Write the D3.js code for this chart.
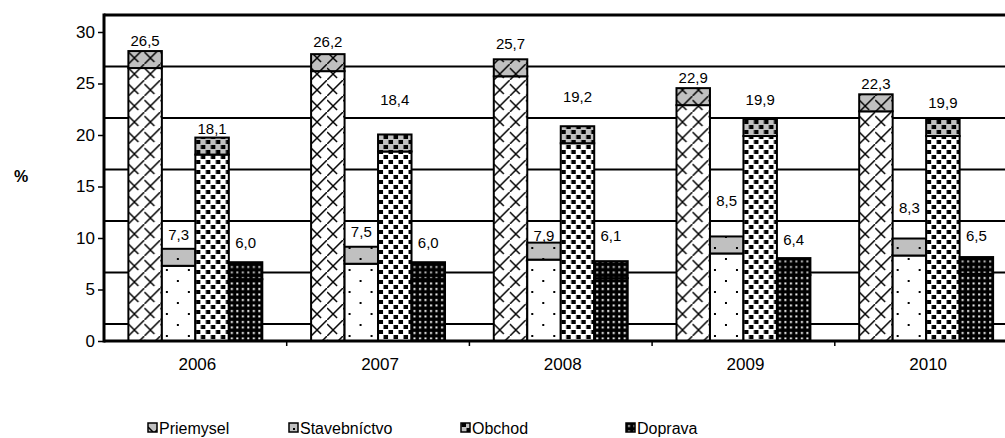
<!DOCTYPE html>
<html>
<head>
<meta charset="utf-8">
<script src="https://cdn.jsdelivr.net/npm/d3@7"></script>
<style>
body { margin: 0; background: #fff; }
svg { display: block; font-family: Arial, "Liberation Sans", sans-serif; }
</style>
</head>
<body>
<script>
var years = ["2006", "2007", "2008", "2009", "2010"];
var series = ["Priemysel", "Stavebníctvo", "Obchod", "Doprava"];
var priemysel = [26.5, 26.2, 25.7, 22.9, 22.3];
var stavebnictvo = [7.3, 7.5, 7.9, 8.5, 8.3];
var obchod = [18.1, 18.4, 19.2, 19.9, 19.9];
var doprava = [6.0, 6.0, 6.1, 6.4, 6.5];
var yTicks = [0, 5, 10, 15, 20, 25, 30];

// how far (px) each value label sits above its bar top, as Excel placed them
var labelLift = [
  [10, 12, 15, 10, 10],
  [14, 15, 7, 35, 31],
  [9, 34, 29, 19, 16],
  [19, 19, 25, 18, 21]
];

var values = [priemysel, stavebnictvo, obchod, doprava];
var depth = 1.65; // 3D depth of the chart, in axis units

var width = 1005, height = 438;

var svg = d3.select("body").append("svg")
  .attr("width", width)
  .attr("height", height);

var y = d3.scaleLinear().domain([0, 30]).range([341, 32]);
var x = d3.scaleBand().domain(years).range([104, 1017.5])
  .paddingInner(0.267).paddingOuter(0.1335);
var xs = d3.scaleBand().domain(series).range([0, x.bandwidth()]);

// patterns: front face and grey top face for every series
var defs = svg.append("defs");

function hatch(id, bg) {
  var p = defs.append("pattern").attr("id", id)
    .attr("patternUnits", "userSpaceOnUse").attr("width", 16).attr("height", 16);
  p.append("rect").attr("width", 16).attr("height", 16).attr("fill", bg);
  p.append("path").attr("d", "M-1,17 L17,-1 M0,4 L10,14")
    .attr("stroke", "#000").attr("stroke-width", 1.5).attr("fill", "none");
}
function sparse(id, bg) {
  var p = defs.append("pattern").attr("id", id)
    .attr("patternUnits", "userSpaceOnUse").attr("width", 22).attr("height", 22);
  p.append("rect").attr("width", 22).attr("height", 22).attr("fill", bg);
  p.append("rect").attr("x", 4).attr("y", 5).attr("width", 2).attr("height", 2).attr("fill", "#000");
  p.append("rect").attr("x", 15).attr("y", 16).attr("width", 2).attr("height", 2).attr("fill", "#000");
}
function confetti(id, bg) {
  var p = defs.append("pattern").attr("id", id)
    .attr("patternUnits", "userSpaceOnUse").attr("width", 10).attr("height", 10);
  p.append("rect").attr("width", 10).attr("height", 10).attr("fill", bg);
  p.append("rect").attr("x", 0.5).attr("y", 0).attr("width", 4.5).attr("height", 4).attr("fill", "#000");
  p.append("rect").attr("x", 5.5).attr("y", 5).attr("width", 4.5).attr("height", 4).attr("fill", "#000");
}
function dotgrid(id, dot) {
  var p = defs.append("pattern").attr("id", id)
    .attr("patternUnits", "userSpaceOnUse").attr("width", 5.5).attr("height", 5.5);
  p.append("rect").attr("width", 5.5).attr("height", 5.5).attr("fill", "#000");
  p.append("rect").attr("x", 2).attr("y", 2).attr("width", 2).attr("height", 2).attr("fill", dot);
}

hatch("p0", "#fff"); hatch("c0", "#c0c0c0");
sparse("p1", "#fff"); sparse("c1", "#c0c0c0");
confetti("p2", "#fff"); confetti("c2", "#c0c0c0");
dotgrid("p3", "#fff"); dotgrid("c3", "#c0c0c0");

// back wall gridlines (shifted up by the depth)
svg.append("g").selectAll("line")
  .data(yTicks.slice(0, -1))
  .enter().append("line")
  .attr("x1", 104).attr("x2", width)
  .attr("y1", function(d) { return y(d + depth); })
  .attr("y2", function(d) { return y(d + depth); })
  .attr("stroke", "#000").attr("stroke-width", 2);

// top frame
svg.append("line")
  .attr("x1", 104).attr("x2", width)
  .attr("y1", y(30 + depth)).attr("y2", y(30 + depth))
  .attr("stroke", "#000").attr("stroke-width", 3);

// bars
var bars = [];
series.forEach(function(s, i) {
  years.forEach(function(yr, j) {
    bars.push({s: i, year: yr, v: values[i][j], lift: labelLift[i][j]});
  });
});

var g = svg.append("g").selectAll("g")
  .data(bars)
  .enter().append("g")
  .attr("transform", function(d) { return "translate(" + (x(d.year) + xs(series[d.s])) + ",0)"; });

g.append("rect")
  .attr("width", xs.bandwidth())
  .attr("y", function(d) { return y(d.v); })
  .attr("height", function(d) { return y(0) - y(d.v); })
  .attr("fill", function(d) { return "url(#p" + d.s + ")"; })
  .attr("stroke", "#000").attr("stroke-width", 2);

g.append("rect")
  .attr("width", xs.bandwidth())
  .attr("y", function(d) { return y(d.v + depth); })
  .attr("height", function(d) { return y(d.v) - y(d.v + depth); })
  .attr("fill", function(d) { return "url(#c" + d.s + ")"; })
  .attr("stroke", "#000").attr("stroke-width", 2);

g.append("text")
  .attr("x", xs.bandwidth() / 2)
  .attr("y", function(d) { return y(d.v + depth) - d.lift + 5; })
  .attr("text-anchor", "middle")
  .style("font-size", "15px")
  .text(function(d) { return d3.format(".1f")(d.v).replace(".", ","); });

// y axis
var yAxis = svg.append("g")
  .attr("transform", "translate(104,0)")
  .call(d3.axisLeft(y).tickValues(yTicks).tickSize(6).tickPadding(3).tickSizeOuter(0));
yAxis.select(".domain").remove();
yAxis.selectAll("line").attr("stroke-width", 1.5);
yAxis.selectAll("text").style("font-size", "17px").attr("fill", "#000");
yAxis.attr("font-family", null);
svg.append("line")
  .attr("x1", 104).attr("x2", 104)
  .attr("y1", y(30 + depth) - 1.5).attr("y2", y(0) + 1.5)
  .attr("stroke", "#000").attr("stroke-width", 3);

// x axis
svg.append("line")
  .attr("x1", 104).attr("x2", width)
  .attr("y1", y(0)).attr("y2", y(0))
  .attr("stroke", "#000").attr("stroke-width", 3);
svg.append("g").selectAll("line")
  .data(years.slice(1))
  .enter().append("line")
  .attr("x1", function(d) { return x(d) - x.step() * x.paddingInner() / 2; })
  .attr("x2", function(d) { return x(d) - x.step() * x.paddingInner() / 2; })
  .attr("y1", y(0)).attr("y2", y(0) + 5)
  .attr("stroke", "#000").attr("stroke-width", 1.5);
svg.append("g").selectAll("text")
  .data(years)
  .enter().append("text")
  .attr("x", function(d) { return x(d) + x.bandwidth() / 2 + 2; })
  .attr("y", 370)
  .attr("text-anchor", "middle")
  .style("font-size", "17px")
  .text(function(d) { return d; });

svg.append("text")
  .attr("x", 21).attr("y", 182)
  .attr("text-anchor", "middle")
  .style("font-size", "16px").style("font-weight", "bold")
  .text("%");

// legend
var legX = [148, 289, 461, 626];
var leg = svg.append("g").selectAll("g")
  .data(series)
  .enter().append("g")
  .attr("transform", function(d, i) { return "translate(" + legX[i] + ",423)"; });
leg.append("rect")
  .attr("width", 9).attr("height", 9)
  .attr("fill", function(d, i) { return "url(#c" + i + ")"; })
  .attr("stroke", "#000").attr("stroke-width", 1.5);
leg.append("text")
  .attr("x", 11).attr("y", 11)
  .style("font-size", "16px")
  .text(function(d) { return d; });
</script>
</body>
</html>
